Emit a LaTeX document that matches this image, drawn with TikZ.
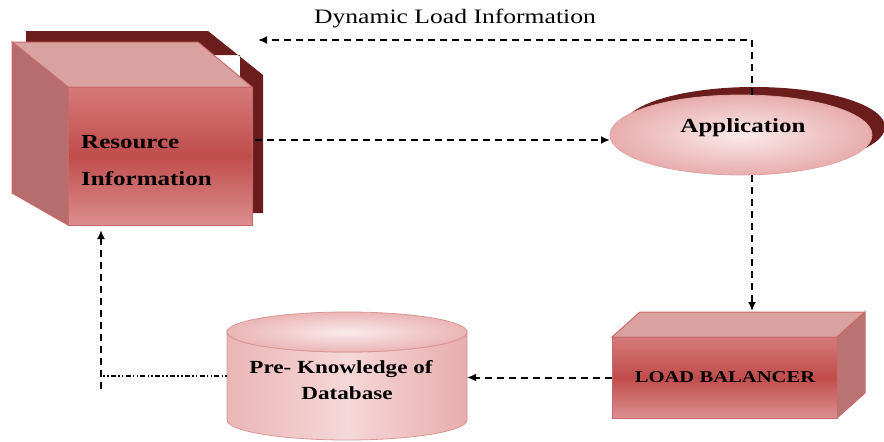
\documentclass[tikz,border=0pt]{standalone}
\usepackage{fontspec}
\setmainfont[FakeStretch=1.25]{Liberation Serif}
\usetikzlibrary{arrows.meta,calc,shapes.geometric}
\definecolor{shadowred}{HTML}{6B1D1D}
\definecolor{edgered}{HTML}{C86A69}
\definecolor{facetop}{HTML}{D9A1A0}
\definecolor{faceleft}{HTML}{B56E6D}
\definecolor{frontA}{HTML}{D47A79}
\definecolor{frontB}{HTML}{C04D4C}
\definecolor{frontC}{HTML}{DA8F8E}
\definecolor{pinkin}{HTML}{FBEAEA}
\definecolor{pinkout}{HTML}{E8ADAD}
\begin{document}
\begin{tikzpicture}[x=1pt,y=-1pt,
  edge/.style={draw=edgered,line width=1pt},
  frontface/.style={edge,top color=frontA,bottom color=frontC,middle color=frontB},
  boldlabel/.style={font=\bfseries\fontsize{20}{37}\selectfont,text=black,inner sep=0pt},
  hold/.style={draw=none,inner sep=0pt,outer sep=0pt},
  dasharrow/.style={line width=2pt,dash pattern=on 7pt off 5pt,-{Latex[length=9pt,width=8pt]}},
  dashdotline/.style={line width=2pt,dash pattern=on 1.6pt off 2.2pt on 1.6pt off 2.2pt on 5pt off 2.2pt}]
\useasboundingbox[fill=white] (0,0) rectangle (884,442);

% ---------- Resource Information cube ----------
\fill[shadowred] (26,31) -- (208,31) -- (263,75) -- (263,213) -- (240,213) -- (240,55) -- (26,55) -- cycle;
\path[edge,fill=facetop] (12,42) -- (198,42) -- (252,87) -- (68,87) -- cycle;
\path[edge,fill=faceleft] (12,42) -- (68,87) -- (68,225) -- (12,193) -- cycle;
\path[frontface] (68,87) rectangle (252,225);
\node[hold,minimum width=195pt,minimum height=138pt] (res) at (157.5,156) {};
\node[boldlabel,align=left,anchor=west] (restext) at (81,161) {Resource\\Information};

% ---------- Application ellipse ----------
\fill[shadowred] (754,127) ellipse[x radius=131,y radius=40];
\path[draw=edgered!60,line width=0.8pt,inner color=pinkin,outer color=pinkout] (741,135) ellipse[x radius=131,y radius=40];
\node[hold,ellipse,minimum width=262pt,minimum height=80pt] (app) at (741,135) {};
\node[boldlabel] (apptext) at (743,128) {Application};

% ---------- Load Balancer box ----------
\path[edge,fill=facetop] (612,337) -- (640,312) -- (865,312) -- (837,337) -- cycle;
\path[edge,fill=faceleft!90!facetop] (837,337) -- (865,312) -- (865,393) -- (837,418) -- cycle;
\path[frontface] (612,337) rectangle (837,418);
\node[hold,minimum width=225pt,minimum height=81pt] (lb) at (724.5,377.5) {};
\node[boldlabel,font=\bfseries\fontsize{16.5}{20}\selectfont] (lbtext) at (725,377) {LOAD BALANCER};
\coordinate (lbtop) at (752,311);

% ---------- Database cylinder ----------
\path[draw=edgered!70,line width=0.8pt,left color=pinkout!90!white,right color=pinkout,middle color=pinkin!70!pinkout]
  (227,332) -- (227,420) arc[start angle=180,end angle=0,x radius=120,y radius=20]
  -- (467,332) arc[start angle=0,end angle=180,x radius=120,y radius=20] -- cycle;
\path[draw=edgered!70,line width=0.8pt,inner color=pinkin,outer color=pinkout!90!white] (347,332) ellipse[x radius=120,y radius=20];
\node[hold,minimum width=240pt,minimum height=128pt] (db) at (347,376) {};
\node[boldlabel,align=center,font=\bfseries\fontsize{18.5}{26}\selectfont] (dbtext) at (341,380) {Pre- Knowledge of\\\hspace*{12pt}Database};

% ---------- connectors ----------
\coordinate (vx) at (752,0);
\coordinate (dl) at (258,40);
\coordinate (corner) at (101,376);
\coordinate (cornerlow) at (101,389);

\draw[dasharrow] (app.north -| vx) -- (vx |- dl) -- (dl);
\node[font=\fontsize{20.5}{24}\selectfont,inner sep=0pt] (dltext) at (455,18) {Dynamic Load Information};

\draw[dasharrow] (res.east |- 0,140) -- (app.west |- 0,140);
\draw[dasharrow] (app.south -| vx) -- (lbtop);
\draw[dasharrow] (lb.west) -- (db.east |- lb.west);
\draw[dashdotline] (db.west |- corner) -- (corner);
\draw[dasharrow,shorten >=5pt] (cornerlow) -- (corner |- res.south);
\end{tikzpicture}
\end{document}
